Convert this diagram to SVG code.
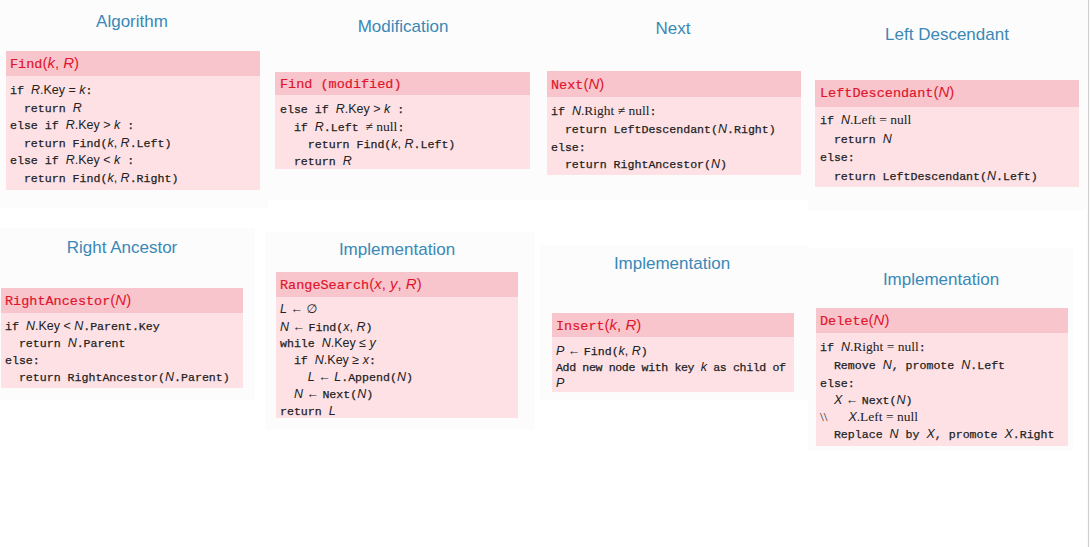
<svg xmlns="http://www.w3.org/2000/svg" width="1091" height="547" viewBox="0 0 1091 547">
<style>
.bg{fill:#fcfcfc}
.title{font-family:"Liberation Sans","DejaVu Sans",sans-serif;font-size:17px;fill:#3a88b6;text-anchor:middle}
.hdr{fill:#f9c5cc}
.bd{fill:#fde1e5}
.ht{font-family:"Liberation Mono","DejaVu Sans Mono",monospace;font-size:13.5px;fill:#e0152c;white-space:pre;stroke:#e0152c;stroke-width:0.2}
.hm{font-family:"Liberation Sans","DejaVu Sans",sans-serif;font-style:italic;font-size:15px;stroke-width:0}
.hp{font-family:"Liberation Sans","DejaVu Sans",sans-serif;font-size:15px;stroke-width:0}
.tx{font-family:"Liberation Mono","DejaVu Sans Mono",monospace;font-size:11.6px;fill:#222;white-space:pre;stroke:#222;stroke-width:0.25}
.m{font-family:"Liberation Sans","DejaVu Sans",sans-serif;font-style:italic;font-size:12.5px;stroke-width:0}
.s{font-family:"Liberation Sans","DejaVu Sans",sans-serif;font-size:12.5px;stroke-width:0}
.r{font-family:"Liberation Serif","DejaVu Serif",serif;font-size:13.5px;stroke-width:0}
</style>
<rect width="1091" height="547" fill="#ffffff"/>
<g id="backgrounds">
<rect class="bg" x="0" y="0" width="268" height="208"/>
<rect class="bg" x="268" y="0" width="272" height="200"/>
<rect class="bg" x="540" y="0" width="268" height="200"/>
<rect class="bg" x="808" y="0" width="278" height="210"/>
<rect class="bg" x="0" y="228" width="255" height="172"/>
<rect class="bg" x="265" y="232" width="270" height="198"/>
<rect class="bg" x="540" y="245" width="268" height="155"/>
<rect class="bg" x="808" y="248" width="265" height="202"/>
</g>
<line x1="1088.5" y1="0" x2="1088.5" y2="547" stroke="#cfcfcf" stroke-width="1.2"/>

<g id="find">
<text class="title" x="132" y="27">Algorithm</text>
<rect class="bd" x="6" y="51" width="254" height="139"/>
<rect class="hdr" x="6" y="51" width="254" height="25"/>
<text class="ht" x="10" y="68">Find<tspan class="hp">(</tspan><tspan class="hm">k</tspan><tspan class="hp">, </tspan><tspan class="hm">R</tspan><tspan class="hp">)</tspan></text>
<text class="tx" x="10" y="94">if <tspan class="m">R</tspan><tspan class="s">.Key = </tspan><tspan class="m">k</tspan>:</text>
<text class="tx" x="10" y="111.5">  return <tspan class="m">R</tspan></text>
<text class="tx" x="10" y="129">else if <tspan class="m">R</tspan><tspan class="s">.Key &gt; </tspan><tspan class="m">k</tspan> :</text>
<text class="tx" x="10" y="146.5">  return Find(<tspan class="m">k</tspan><tspan class="s">, </tspan><tspan class="m">R</tspan>.Left)</text>
<text class="tx" x="10" y="164">else if <tspan class="m">R</tspan><tspan class="s">.Key &lt; </tspan><tspan class="m">k</tspan> :</text>
<text class="tx" x="10" y="181.5">  return Find(<tspan class="m">k</tspan><tspan class="s">, </tspan><tspan class="m">R</tspan>.Right)</text>
</g>

<g id="find-modified">
<text class="title" x="403" y="32">Modification</text>
<rect class="bd" x="275" y="72" width="255" height="97"/>
<rect class="hdr" x="275" y="72" width="255" height="23"/>
<text class="ht" x="280" y="88">Find (modified)</text>
<text class="tx" x="280" y="113">else if <tspan class="m">R</tspan><tspan class="s">.Key &gt; </tspan><tspan class="m">k</tspan> :</text>
<text class="tx" x="280" y="131">  if <tspan class="m">R</tspan>.Left <tspan class="r">≠ null</tspan>:</text>
<text class="tx" x="280" y="148">    return Find(<tspan class="m">k</tspan><tspan class="s">, </tspan><tspan class="m">R</tspan>.Left)</text>
<text class="tx" x="280" y="165">  return <tspan class="m">R</tspan></text>
</g>

<g id="next">
<text class="title" x="673" y="34">Next</text>
<rect class="bd" x="547" y="71" width="254" height="104"/>
<rect class="hdr" x="547" y="71" width="254" height="26"/>
<text class="ht" x="551" y="89">Next<tspan class="hp">(</tspan><tspan class="hm">N</tspan><tspan class="hp">)</tspan></text>
<text class="tx" x="551" y="115">if <tspan class="m">N</tspan><tspan class="r">.Right ≠ null</tspan>:</text>
<text class="tx" x="551" y="133">  return LeftDescendant(<tspan class="m">N</tspan>.Right)</text>
<text class="tx" x="551" y="151">else:</text>
<text class="tx" x="551" y="168">  return RightAncestor(<tspan class="m">N</tspan>)</text>
</g>

<g id="left-descendant">
<text class="title" x="947" y="40">Left Descendant</text>
<rect class="bd" x="815" y="80" width="264" height="107"/>
<rect class="hdr" x="815" y="80" width="264" height="27"/>
<text class="ht" x="820" y="97">LeftDescendant<tspan class="hp">(</tspan><tspan class="hm">N</tspan><tspan class="hp">)</tspan></text>
<text class="tx" x="820" y="124">if <tspan class="m">N</tspan><tspan class="r">.Left = null</tspan></text>
<text class="tx" x="820" y="143">  return <tspan class="m">N</tspan></text>
<text class="tx" x="820" y="161">else:</text>
<text class="tx" x="820" y="180">  return LeftDescendant(<tspan class="m">N</tspan>.Left)</text>
</g>

<g id="right-ancestor">
<text class="title" x="122" y="253">Right Ancestor</text>
<rect class="bd" x="1" y="288" width="242" height="100"/>
<rect class="hdr" x="1" y="288" width="242" height="25"/>
<text class="ht" x="5" y="305">RightAncestor<tspan class="hp">(</tspan><tspan class="hm">N</tspan><tspan class="hp">)</tspan></text>
<text class="tx" x="5" y="330">if <tspan class="m">N</tspan><tspan class="s">.Key &lt; </tspan><tspan class="m">N</tspan>.Parent.Key</text>
<text class="tx" x="5" y="347">  return <tspan class="m">N</tspan>.Parent</text>
<text class="tx" x="5" y="364">else:</text>
<text class="tx" x="5" y="381">  return RightAncestor(<tspan class="m">N</tspan>.Parent)</text>
</g>

<g id="range-search">
<text class="title" x="397" y="255">Implementation</text>
<rect class="bd" x="276" y="272" width="242" height="146"/>
<rect class="hdr" x="276" y="272" width="242" height="25"/>
<text class="ht" x="280" y="289">RangeSearch<tspan class="hp">(</tspan><tspan class="hm">x</tspan><tspan class="hp">, </tspan><tspan class="hm">y</tspan><tspan class="hp">, </tspan><tspan class="hm">R</tspan><tspan class="hp">)</tspan></text>
<text class="tx" x="280" y="313"><tspan class="m">L</tspan><tspan class="s"> ← ∅</tspan></text>
<text class="tx" x="280" y="331"><tspan class="m">N</tspan><tspan class="s"> ← </tspan>Find(<tspan class="m">x</tspan><tspan class="s">, </tspan><tspan class="m">R</tspan>)</text>
<text class="tx" x="280" y="347">while <tspan class="m">N</tspan><tspan class="s">.Key ≤ </tspan><tspan class="m">y</tspan></text>
<text class="tx" x="280" y="364">  if <tspan class="m">N</tspan><tspan class="s">.Key ≥ </tspan><tspan class="m">x</tspan>:</text>
<text class="tx" x="280" y="381">    <tspan class="m">L</tspan><tspan class="s"> ← </tspan><tspan class="m">L</tspan>.Append(<tspan class="m">N</tspan>)</text>
<text class="tx" x="280" y="398">  <tspan class="m">N</tspan><tspan class="s"> ← </tspan>Next(<tspan class="m">N</tspan>)</text>
<text class="tx" x="280" y="415">return <tspan class="m">L</tspan></text>
</g>

<g id="insert">
<text class="title" x="672" y="269">Implementation</text>
<rect class="bd" x="552" y="313" width="242" height="79"/>
<rect class="hdr" x="552" y="313" width="242" height="24"/>
<text class="ht" x="556" y="330">Insert<tspan class="hp">(</tspan><tspan class="hm">k</tspan><tspan class="hp">, </tspan><tspan class="hm">R</tspan><tspan class="hp">)</tspan></text>
<text class="tx" x="556" y="355"><tspan class="m">P</tspan><tspan class="s"> ← </tspan>Find(<tspan class="m">k</tspan><tspan class="s">, </tspan><tspan class="m">R</tspan>)</text>
<text class="tx" x="556" y="371" textLength="230">Add new node with key <tspan class="m">k</tspan> as child of</text>
<text class="tx" x="556" y="387"><tspan class="m">P</tspan></text>
</g>

<g id="delete">
<text class="title" x="941" y="285">Implementation</text>
<rect class="bd" x="816" y="308" width="252" height="138"/>
<rect class="hdr" x="816" y="308" width="252" height="25"/>
<text class="ht" x="820" y="325">Delete<tspan class="hp">(</tspan><tspan class="hm">N</tspan><tspan class="hp">)</tspan></text>
<text class="tx" x="820" y="351">if <tspan class="m">N</tspan><tspan class="r">.Right = null</tspan>:</text>
<text class="tx" x="820" y="369">  Remove <tspan class="m">N</tspan>, promote <tspan class="m">N</tspan>.Left</text>
<text class="tx" x="820" y="387">else:</text>
<text class="tx" x="820" y="404">  <tspan class="m">X</tspan><tspan class="s"> ← </tspan>Next(<tspan class="m">N</tspan>)</text>
<text class="tx" x="820" y="421"><tspan class="r">\\</tspan>   <tspan class="m">X</tspan><tspan class="r">.Left = null</tspan></text>
<text class="tx" x="820" y="438">  Replace <tspan class="m">N</tspan> by <tspan class="m">X</tspan>, promote <tspan class="m">X</tspan>.Right</text>
</g>
</svg>
